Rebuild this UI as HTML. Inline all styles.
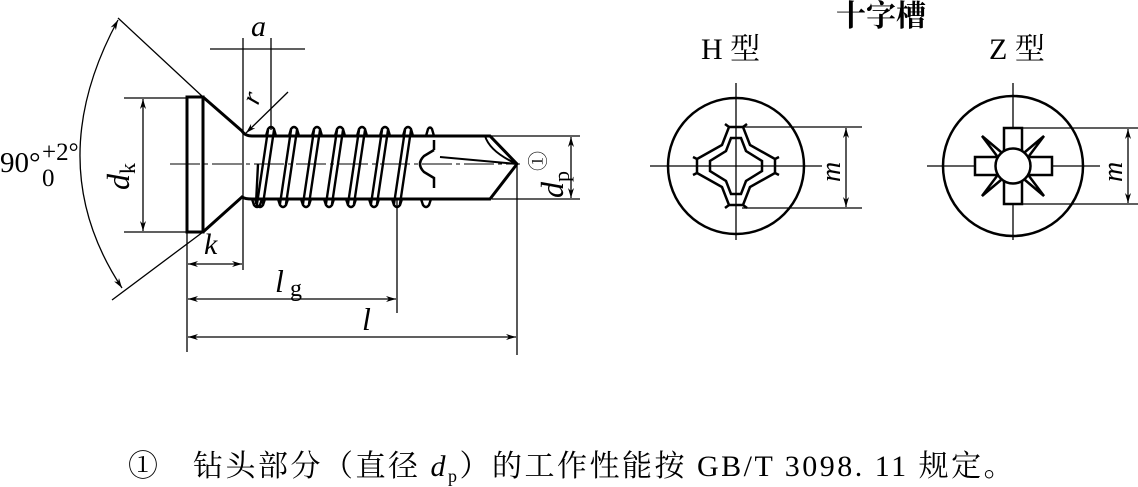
<!DOCTYPE html>
<html><head><meta charset="utf-8"><style>
html,body{margin:0;padding:0;background:#fff;}
svg{display:block;}
text{font-family:"Liberation Serif","Noto Serif CJK SC",serif;fill:#000;}
.it{font-style:italic;}
</style></head><body>
<svg width="1138" height="487" viewBox="0 0 1138 487" xmlns="http://www.w3.org/2000/svg">
<defs>
<marker id="ar" viewBox="0 0 10 6" refX="10" refY="3" markerWidth="14" markerHeight="6" markerUnits="userSpaceOnUse" orient="auto-start-reverse"><path d="M0,0 L10,3 L0,6 L3,3 Z" fill="#000"/></marker>
<g id="th">
<path d="M-5,136 L-3,129 Q0,125 3,129 L5,136" />
<path d="M-3,130 L-14,204 M3,130 L-8,204"/>
<path d="M-16,199 L-14,205 Q-11,209 -8,205 L-6,199"/>
</g>
</defs>
<g stroke="#000" fill="none">
<rect x="187" y="97" width="16" height="135" stroke-width="3"/>
<path d="M203,97 L242,131 Q245,136 252,136 L490,136 L517,164 L490,199 L252,199 Q245,199 242,197 L203,232" stroke-width="3"/>
<path d="M485,136 Q490,152 517,164" stroke-width="2"/>
<path d="M440,157 L517,164" stroke-width="2"/>
<path d="M434,150 L424,156 Q416,164 424,172 L434,178 L434,188" stroke-width="2.5"/>
<path d="M434,150 L434,140" stroke-width="2.5"/>
<g stroke-width="2.4">
<use href="#th" x="271"/><use href="#th" x="294"/><use href="#th" x="317"/><use href="#th" x="340"/>
<use href="#th" x="362"/><use href="#th" x="385"/><use href="#th" x="408"/>
<path d="M426,136 L428,129 Q430,126 432,129 L434,136"/>
<path d="M421,199 L423,205 Q426,209 429,205 L431,199"/>
<path d="M252,199 L254,205 Q257,209 260,205 L262,199 M258,164 L256,204"/>
</g>
<path d="M170,164 L520,164" stroke-width="1" stroke-dasharray="30,4,4,4"/>
<path d="M203,97 L118,18 M203,232 L112,300" stroke-width="1.3"/>
<path d="M118,20 Q40,164 122,288" stroke-width="1.3" marker-start="url(#ar)" marker-end="url(#ar)"/>
<path d="M243,38 L243,270 M271,38 L271,130 M210,49 L305,49" stroke-width="1.3"/>
<path d="M288,92 L246,133" stroke-width="1.3" marker-end="url(#ar)"/>
<path d="M124,98 L187,98 M124,232 L187,232" stroke-width="1.3"/>
<path d="M143,99 L143,231" stroke-width="1.3" marker-start="url(#ar)" marker-end="url(#ar)"/>
<path d="M188,264 L242,264" stroke-width="1.3" marker-start="url(#ar)" marker-end="url(#ar)"/>
<path d="M187,232 L187,352 M397,199 L397,313 M517,166 L517,355" stroke-width="1.3"/>
<path d="M188,299 L396,299" stroke-width="1.3" marker-start="url(#ar)" marker-end="url(#ar)"/>
<path d="M188,337 L516,337" stroke-width="1.3" marker-start="url(#ar)" marker-end="url(#ar)"/>
<path d="M488,136 L580,136 M492,199 L580,199" stroke-width="1.3"/>
<path d="M571,137 L571,198" stroke-width="1.3" marker-start="url(#ar)" marker-end="url(#ar)"/>

<circle cx="736" cy="166" r="68" stroke-width="2.5"/>
<path d="M650,166 L822,166 M736,83 L736,240" stroke-width="1.3"/>
<path d="M742,127 L862,127 M742,208 L862,208" stroke-width="1.3"/>
<path d="M846,128 L846,207" stroke-width="1.3" marker-start="url(#ar)" marker-end="url(#ar)"/>
<g stroke-width="2.5">
<path d="M729,127 L743,127 L750,145 L775,159 L775,173 L750,187 L743,205 L729,205 L722,187 L697,173 L697,159 L722,145 Z"/>
<path d="M731,138 L741,138 L746,151 L762,161 L762,171 L746,181 L741,194 L731,194 L726,181 L710,171 L710,161 L726,151 Z"/>
<path d="M725,124 L729,127 M747,124 L743,127 M725,208 L729,205 M747,208 L743,205 M693,157 L697,159 M693,175 L697,173 M779,157 L775,159 M779,175 L775,173"/>
</g>

<circle cx="1013" cy="166" r="70" stroke-width="2.5"/>
<path d="M927,166 L1100,166 M1013,83 L1013,240" stroke-width="1.3"/>
<path d="M1018,128 L1138,128 M1018,204 L1138,204" stroke-width="1.3"/>
<path d="M1128,129 L1128,203" stroke-width="1.3" marker-start="url(#ar)" marker-end="url(#ar)"/>
<g stroke-width="2.5">
<rect x="1004" y="128" width="18" height="76" fill="#fff"/>
<rect x="975" y="157" width="77" height="18" fill="#fff"/>
<circle cx="1013" cy="166" r="17.5" fill="#fff"/>
<path d="M1001,152 L982,136 L997,156 M1025,152 L1044,136 L1029,156 M1001,180 L982,196 L997,176 M1025,180 L1044,196 L1029,176"/>
</g>
</g>

<text x="0" y="172" font-size="29">90°</text>
<text x="42" y="160" font-size="25">+2°</text>
<text x="42" y="186" font-size="25">0</text>
<text x="251" y="36" font-size="30" class="it">a</text>
<text x="0" y="0" font-size="28" class="it" transform="translate(258,106) rotate(-70)">r</text>
<text x="0" y="0" font-size="32" class="it" transform="translate(129,190) rotate(-90)">d<tspan font-size="22" font-style="normal" dy="6">k</tspan></text>
<text x="204" y="254" font-size="30" class="it">k</text>
<text x="275" y="292" font-size="32" class="it">l</text>
<text x="290" y="296" font-size="24">g</text>
<text x="362" y="330" font-size="32" class="it">l</text>
<text x="0" y="0" font-size="32" class="it" transform="translate(563,198) rotate(-90)">d<tspan font-size="22" font-style="normal" dy="6">p</tspan><tspan font-style="normal" font-size="20" dy="-24">①</tspan></text>
<text x="0" y="0" font-size="28" class="it" transform="translate(840,182) rotate(-90)">m</text>
<text x="0" y="0" font-size="28" class="it" transform="translate(1122,182) rotate(-90)">m</text>
<text x="836" y="26" font-size="30" font-weight="bold">十字槽</text>
<text x="701" y="59" font-size="30">H 型</text>
<text x="989" y="59" font-size="30">Z 型</text>
<text x="128" y="476" font-size="30" letter-spacing="2.5">①　钻头部分（直径 <tspan class="it">d</tspan><tspan font-size="18" dy="6">p</tspan><tspan dy="-6">）的工作性能按 GB/T 3098. 11 规定。</tspan></text>
</svg>
</body></html>
